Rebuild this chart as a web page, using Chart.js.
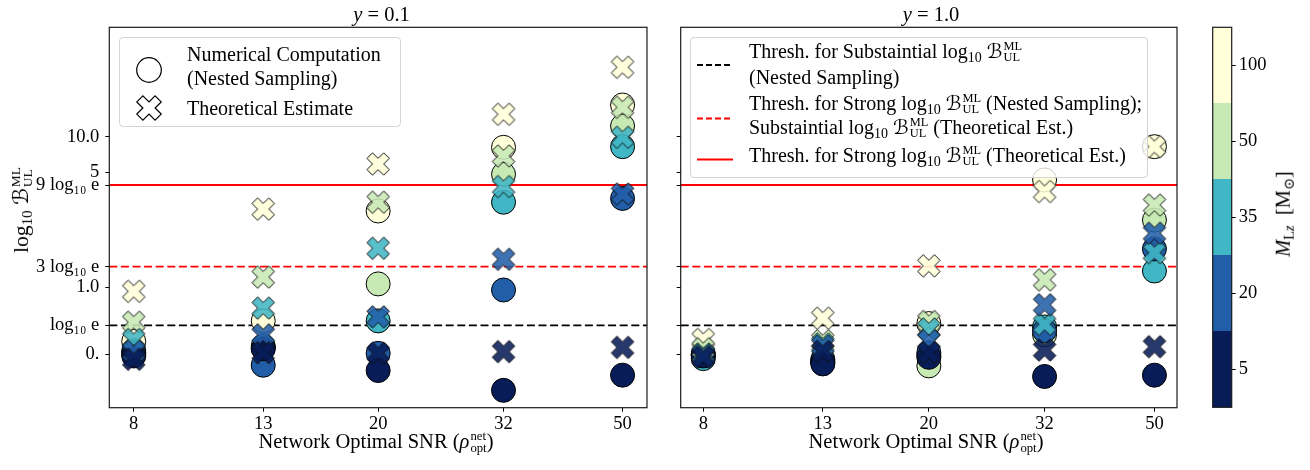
<!DOCTYPE html>
<html>
<head>
<meta charset="utf-8">
<script src="https://cdn.jsdelivr.net/npm/chart.js@4.4.0/dist/chart.umd.min.js"></script>
<style>
  html, body { margin: 0; padding: 0; background: #fff; }
  #fig { position: relative; width: 1310px; height: 470px; overflow: hidden;
         font-family: "Liberation Serif", "DejaVu Serif", serif; color: #000; }
  canvas { position: absolute; top: 0; }
  .txt { position: absolute; white-space: nowrap; line-height: 1; }
  .c { transform: translate(-50%, -50%); }
  .vc { transform: translateY(-50%); }
  .rot { transform: translate(-50%, -50%) rotate(-90deg); }
  sub { font-size: 0.7em; vertical-align: -0.28em; line-height: 0; }
  .cal { font-family: "DejaVu Serif", "DejaVu Sans", serif; }
  .ss { display: inline-flex; flex-direction: column; font-size: 0.62em; line-height: 0.9;
        vertical-align: 0.62em; margin-left: 1px; }
  .legend { position: absolute; background: rgba(255,255,255,0.8); border: 1px solid #d4d4d4;
            border-radius: 4px; box-sizing: border-box; font-size: 20px; }
</style>
</head>
<body>
<div id="fig">
  <canvas id="left" width="660" height="470" style="left:0"></canvas>
  <canvas id="right" width="530" height="470" style="left:660px"></canvas>
  <canvas id="cbar" width="110" height="470" style="left:1200px"></canvas>

  <div class="txt c" style="left:381.5px;top:14px;font-size:20.5px"><i>y</i> = 0.1</div>
  <div class="txt c" style="left:931px;top:14px;font-size:20.5px"><i>y</i> = 1.0</div>

  <div class="txt" style="left:376px;top:445px;font-size:20.5px;transform:translate(-50%,-62%)">Network Optimal SNR (<i>ρ</i><span class="ss"><span>net</span><span>opt</span></span>)</div>
  <div class="txt" style="left:926px;top:445px;font-size:20.5px;transform:translate(-50%,-62%)">Network Optimal SNR (<i>ρ</i><span class="ss"><span>net</span><span>opt</span></span>)</div>

  <div class="txt rot" style="left:22px;top:210px;font-size:21.5px">log<sub>10</sub> <span class="cal">ℬ</span><span class="ss"><span>ML</span><span>UL</span></span></div>
  <div class="txt rot" style="left:1283px;top:214px;font-size:20.5px"><i>M</i><sub>L<i>z</i></sub>&nbsp; [M<sub>⊙</sub>]</div>

  <div class="legend" style="left:119px;top:37px;width:282px;height:90px">
    <svg width="60" height="88" style="position:absolute;left:0;top:0">
      <circle cx="29" cy="32" r="12.3" fill="#fff" stroke="#000" stroke-width="1.2"/>
      <polygon id="legX" fill="#fff" stroke="#000" stroke-width="1.2"/>
    </svg>
    <div class="txt vc" style="left:67px;top:16px">Numerical Computation</div>
    <div class="txt vc" style="left:67px;top:40px">(Nested Sampling)</div>
    <div class="txt vc" style="left:67px;top:70px">Theoretical Estimate</div>
  </div>

  <div class="legend" style="left:690px;top:37px;width:458px;height:141px">
    <svg width="50" height="140" style="position:absolute;left:0;top:0">
      <line x1="6" y1="27" x2="42" y2="27" stroke="#000" stroke-width="1.8" stroke-dasharray="6,3"/>
      <line x1="6" y1="80.5" x2="42" y2="80.5" stroke="#ff0000" stroke-width="1.8" stroke-dasharray="6,3"/>
      <line x1="6" y1="121.5" x2="42" y2="121.5" stroke="#ff0000" stroke-width="1.8"/>
    </svg>
    <div class="txt" style="left:58px;top:17px;transform:translateY(-62%)">Thresh. for Substaintial log<sub>10</sub> <span class="cal">ℬ</span><span class="ss"><span>ML</span><span>UL</span></span></div>
    <div class="txt vc" style="left:58px;top:39px">(Nested Sampling)</div>
    <div class="txt" style="left:58px;top:69px;transform:translateY(-62%)">Thresh. for Strong log<sub>10</sub> <span class="cal">ℬ</span><span class="ss"><span>ML</span><span>UL</span></span> (Nested Sampling);</div>
    <div class="txt" style="left:58px;top:93px;transform:translateY(-62%)">Substaintial log<sub>10</sub> <span class="cal">ℬ</span><span class="ss"><span>ML</span><span>UL</span></span> (Theoretical Est.)</div>
    <div class="txt" style="left:58px;top:121px;transform:translateY(-62%)">Thresh. for Strong log<sub>10</sub> <span class="cal">ℬ</span><span class="ss"><span>ML</span><span>UL</span></span> (Theoretical Est.)</div>
  </div>
</div>

<script>
// ---- data -------------------------------------------------------------
const SNR = [8, 13, 20, 32, 50];
const MASS_BINS = [5, 20, 35, 50, 100];
const MASS_COLORS = ['#081d58', '#225ea8', '#41b6c4', '#c7e9b4', '#ffffd9'];

// log10 B_UL^ML, one row per mass bin (5, 20, 35, 50, 100), one column per SNR
const nestedY01 = [
  [-0.03,  0.08, -0.25, -0.55, -0.32],
  [ 0.02, -0.17,  0.01,  0.96,  3.48],
  [ 0.00,  0.12,  0.50,  3.36,  8.60],
  [ 0.05,  0.09,  1.05,  4.83, 11.50],
  [ 0.19,  0.50,  3.08,  8.51, 14.45]
];
const theoryY01 = [
  [-0.08,  0.02,  0.01,  0.035, 0.10],
  [ 0.04,  0.29,  0.56,  1.54,  3.62],
  [ 0.22,  0.69,  1.89,  3.86,  9.92],
  [ 0.48,  1.15,  3.36,  7.29, 14.13],
  [ 0.94,  3.14,  6.17, 13.15, 19.75]
];
const nestedY10 = [
  [-0.03, -0.15, -0.05, -0.34, -0.32],
  [-0.02, -0.13,  0.02,  0.35,  1.87],
  [-0.07, -0.10, -0.02,  0.41,  1.24],
  [-0.01, -0.08, -0.18,  0.29,  2.79],
  [ 0.00, -0.12,  0.46,  4.34,  8.60]
];
const theoryY10 = [
  [-0.05,  0.04,  0.02,  0.06,  0.11],
  [-0.02,  0.12,  0.20,  0.74,  2.37],
  [ 0.00,  0.15,  0.38,  0.45,  1.75],
  [ 0.08,  0.20,  0.49,  1.11,  3.27],
  [ 0.22,  0.54,  1.33,  3.70,  8.60]
];

const LOG10E = Math.LOG10E;
const THRESHOLDS = [LOG10E, 3 * LOG10E, 9 * LOG10E];
const Y_TICKS = [0, LOG10E, 1, 3 * LOG10E, 9 * LOG10E, 5, 10];
const Y_TICK_LABELS = ['0.', 'log₁₀ e', '1.0', '3 log₁₀ e', '9 log₁₀ e', '5', '10.0'];

// ---- warped y axis: tick values sit at these axis positions -----------
const WARP_KNOTS = [0, 28.7, 66.7, 87.3, 169, 181.7, 217.3];
const WARP_MIN = -53.7, WARP_MAX = 326.7;

function interp(v, xs, ys) {
  const n = xs.length;
  let i = 0;
  if (v >= xs[n - 1]) i = n - 2;
  else if (v > xs[0]) { while (v > xs[i + 1]) i++; }
  const t = (v - xs[i]) / (xs[i + 1] - xs[i]);
  return ys[i] + t * (ys[i + 1] - ys[i]);
}
const warp = v => interp(v, Y_TICKS, WARP_KNOTS);
const unwarp = u => interp(u, WARP_KNOTS, Y_TICKS);

class WarpedScale extends Chart.LinearScale {
  getPixelForValue(value) { return super.getPixelForValue(warp(value)); }
  getValueForPixel(pixel) { return unwarp(super.getValueForPixel(pixel)); }
}
WarpedScale.id = 'warped';
WarpedScale.defaults = Chart.LinearScale.defaults;
Chart.register(WarpedScale);

Chart.defaults.font.family = '"Liberation Serif", "DejaVu Serif", serif';
Chart.defaults.color = '#000';

// ---- filled "X" marker -------------------------------------------------
const X_SHAPE = [[-1,-2],[0,-1],[1,-2],[2,-1],[1,0],[2,1],[1,2],[0,1],[-1,2],[-2,1],[-1,0],[-2,-1]];

function hexToRgba(hex, a) {
  const n = parseInt(hex.slice(1), 16);
  return `rgba(${(n >> 16) & 255},${(n >> 8) & 255},${n & 255},${a})`;
}
function crossMarker(color, alpha) {
  const size = 28, unit = 5.6, c = size / 2;
  const cv = document.createElement('canvas');
  cv.width = size; cv.height = size;
  const g = cv.getContext('2d');
  g.beginPath();
  X_SHAPE.forEach(([x, y], k) => {
    const px = c + x * unit, py = c + y * unit;
    if (k === 0) g.moveTo(px, py); else g.lineTo(px, py);
  });
  g.closePath();
  g.fillStyle = hexToRgba(color, alpha);
  g.fill();
  g.strokeStyle = '#111';
  g.lineWidth = 1;
  g.stroke();
  return cv;
}
document.getElementById('legX').setAttribute('points',
  X_SHAPE.map(([x, y]) => `${29 + x * 6.1},${70 + y * 6.1}`).join(' '));

// ---- panels ------------------------------------------------------------
const X_MIN = 8 / Math.pow(10, 0.0398), X_MAX = 50 * Math.pow(10, 0.0398);

const framePlugin = {
  id: 'frame',
  afterDraw(chart) {
    const { ctx, chartArea: a } = chart;
    ctx.save();
    ctx.strokeStyle = '#1a1a1a';
    ctx.lineWidth = 1.2;
    ctx.strokeRect(a.left, a.top, a.right - a.left, a.bottom - a.top);
    ctx.restore();
  }
};

function thresholdSets() {
  const styles = [
    { color: '#000000', dash: [8, 3.6] },
    { color: '#ff0000', dash: [8, 3.6] },
    { color: '#ff0000', dash: [] }
  ];
  return THRESHOLDS.map((t, k) => ({
    type: 'scatter', showLine: true,
    data: [{ x: X_MIN, y: t }, { x: X_MAX, y: t }],
    borderColor: styles[k].color, borderDash: styles[k].dash, borderWidth: 1.8,
    pointRadius: 0, fill: false, order: 100
  }));
}

function markerSets(nested, theory) {
  const sets = [];
  MASS_BINS.forEach((m, i) => {
    sets.push({
      label: `nested ${m}`,
      data: SNR.map((s, j) => ({ x: s, y: nested[i][j] })),
      pointStyle: 'circle', pointRadius: 12, pointHoverRadius: 12,
      backgroundColor: MASS_COLORS[i], borderColor: '#000', borderWidth: 1,
      order: 10 + i
    });
    sets.push({
      label: `theory ${m}`,
      data: SNR.map((s, j) => ({ x: s, y: theory[i][j] })),
      pointStyle: crossMarker(MASS_COLORS[i], 0.88),
      order: i
    });
  });
  return sets;
}

function panel(id, nested, theory, opts) {
  return new Chart(document.getElementById(id), {
    type: 'scatter',
    data: { datasets: [...thresholdSets(), ...markerSets(nested, theory)] },
    options: {
      responsive: false, animation: false, events: [],
      layout: { padding: { left: 0, right: opts.padRight, top: 27.3, bottom: 0 } },
      plugins: { legend: { display: false }, tooltip: { enabled: false } },
      scales: {
        x: {
          type: 'logarithmic', min: X_MIN, max: X_MAX, bounds: 'data',
          afterBuildTicks: s => { s.ticks = SNR.map(v => ({ value: v })); },
          afterFit: s => { s.height = 62.3; },
          ticks: { callback: v => String(v), autoSkip: false, maxRotation: 0,
                   font: { size: 18.5 }, padding: 1 },
          grid: { drawOnChartArea: false, drawTicks: true, tickLength: 4,
                  tickColor: '#000', tickWidth: 1 },
          border: { display: false }
        },
        y: {
          type: 'warped', min: WARP_MIN, max: WARP_MAX, bounds: 'data',
          afterBuildTicks: s => { s.ticks = Y_TICKS.map(v => ({ value: v })); },
          afterFit: s => { s.width = opts.axisWidth; },
          ticks: { callback: (v, i) => opts.labels ? Y_TICK_LABELS[i] : '',
                   autoSkip: false, font: { size: 18.5 }, padding: 6 },
          grid: { drawOnChartArea: false, drawTicks: true, tickLength: 4,
                  tickColor: '#000', tickWidth: 1 },
          border: { display: false }
        }
      }
    },
    plugins: [framePlugin]
  });
}

panel('left', nestedY01, theoryY01, { padRight: 6.3, axisWidth: 109.3, labels: true });
panel('right', nestedY10, theoryY10, { padRight: 9, axisWidth: 20.7, labels: false });

// ---- colour bar ---------------------------------------------------------
new Chart(document.getElementById('cbar'), {
  type: 'bar',
  data: {
    labels: [''],
    datasets: MASS_BINS.map((m, i) => ({
      label: String(m), data: [1], backgroundColor: MASS_COLORS[i],
      borderWidth: 0, barPercentage: 1, categoryPercentage: 1
    }))
  },
  options: {
    responsive: false, animation: false, events: [],
    layout: { padding: { left: 12.7, right: 0, top: 27.3, bottom: 62.7 } },
    plugins: { legend: { display: false }, tooltip: { enabled: false } },
    scales: {
      x: { stacked: true, display: false },
      y: {
        stacked: true, position: 'right', min: 0, max: MASS_BINS.length, bounds: 'data',
        afterBuildTicks: s => { s.ticks = MASS_BINS.map((m, i) => ({ value: i + 0.5 })); },
        afterFit: s => { s.width = 78.3; },
        ticks: { callback: (v, i) => String(MASS_BINS[i]), autoSkip: false,
                 font: { size: 18.5 }, padding: 3 },
        grid: { drawOnChartArea: false, drawTicks: true, tickLength: 4,
                tickColor: '#000', tickWidth: 1 },
        border: { display: false }
      }
    }
  },
  plugins: [framePlugin]
});
</script>
</body>
</html>
